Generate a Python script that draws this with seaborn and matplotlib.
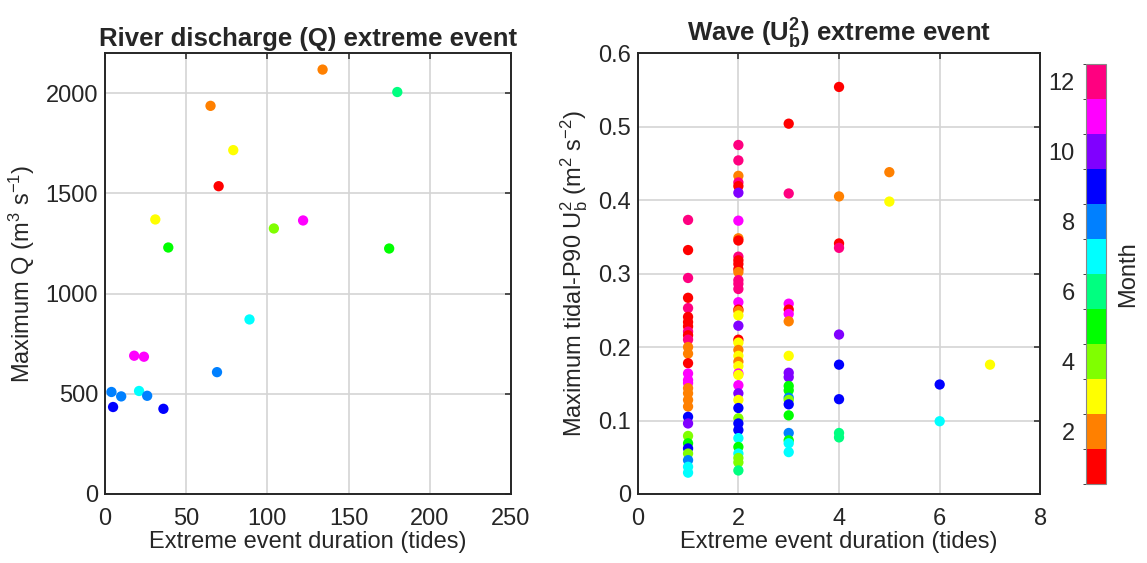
import numpy as np
import pandas as pd
import matplotlib
matplotlib.use("Agg")
import matplotlib.pyplot as plt
import seaborn as sns
from matplotlib.colors import ListedColormap, BoundaryNorm
import matplotlib.cm as cm

# ---------------- data ----------------
q_duration = [134, 180, 65, 79, 70, 31, 104, 122, 39, 175, 89, 18, 24, 69, 4, 10, 21, 26, 5, 36]
q_max = [2118, 2006, 1937, 1716, 1536, 1370, 1325, 1365, 1230, 1225, 871, 690, 685, 608, 509, 487, 514, 490, 434, 425]
q_month = [2, 6, 2, 3, 1, 3, 4, 11, 5, 5, 7, 11, 11, 8, 8, 8, 7, 8, 9, 9]

w_duration = (
    [1] * 30 + [2] * 43 + [3] * 19 + [4] * 9 + [5] * 2 + [6] * 2 + [7] * 1
)
w_u2 = [
    # duration 1
    0.373, 0.332, 0.294, 0.267, 0.253, 0.241, 0.234, 0.228, 0.221, 0.216,
    0.210, 0.200, 0.191, 0.178, 0.164, 0.155, 0.151, 0.144, 0.137, 0.128,
    0.119, 0.105, 0.096, 0.079, 0.069, 0.062, 0.055, 0.046, 0.037, 0.029,
    # duration 2
    0.475, 0.454, 0.433, 0.424, 0.419, 0.410, 0.372, 0.348, 0.345, 0.323,
    0.318, 0.313, 0.306, 0.302, 0.291, 0.286, 0.279, 0.261, 0.251, 0.249,
    0.243, 0.229, 0.210, 0.206, 0.196, 0.188, 0.180, 0.174, 0.164, 0.162,
    0.148, 0.137, 0.128, 0.117, 0.103, 0.096, 0.087, 0.076, 0.064, 0.055,
    0.049, 0.043, 0.032,
    # duration 3
    0.504, 0.409, 0.259, 0.251, 0.245, 0.235, 0.188, 0.165, 0.159, 0.147,
    0.141, 0.131, 0.128, 0.122, 0.107, 0.083, 0.073, 0.069, 0.057,
    # duration 4
    0.554, 0.405, 0.341, 0.335, 0.217, 0.176, 0.129, 0.083, 0.077,
    # duration 5
    0.438, 0.398,
    # duration 6
    0.149, 0.099,
    # duration 7
    0.176,
]
w_month = [
    # duration 1
    12, 1, 12, 1, 12, 1, 1, 1, 12, 1,
    12, 2, 2, 1, 11, 11, 11, 2, 2, 2,
    2, 9, 10, 4, 5, 9, 4, 8, 7, 7,
    # duration 2
    12, 12, 2, 12, 1, 10, 11, 2, 1, 12,
    1, 1, 1, 2, 12, 12, 12, 11, 1, 2,
    3, 10, 1, 3, 2, 3, 2, 3, 11, 3,
    11, 10, 3, 9, 4, 9, 9, 7, 5, 7,
    4, 4, 6,
    # duration 3
    1, 12, 11, 1, 11, 2, 3, 10, 10, 5,
    5, 8, 4, 9, 5, 8, 5, 7, 7,
    # duration 4
    1, 2, 1, 12, 10, 9, 9, 6, 6,
    # duration 5
    2, 3,
    # duration 6
    9, 7,
    # duration 7
    3,
]

month_colors = [
    "#ff0000", "#ff8000", "#ffff00", "#80ff00", "#00ff00", "#00ff80",
    "#00ffff", "#0080ff", "#0000ff", "#8000ff", "#ff00ff", "#ff0080",
]
months = list(range(1, 13))
palette = dict(zip(months, month_colors))

df_q = pd.DataFrame({"duration": q_duration, "Q": q_max, "month": q_month})
df_w = pd.DataFrame({"duration": w_duration, "U2": w_u2, "month": w_month})

# ---------------- style ----------------
sns.set_style("white")
plt.rcParams["font.family"] = ["Liberation Sans", "DejaVu Sans"]
plt.rcParams["mathtext.fontset"] = "custom"
plt.rcParams["mathtext.rm"] = "Liberation Sans"
plt.rcParams["mathtext.it"] = "Liberation Sans"
plt.rcParams["mathtext.bf"] = "Liberation Sans:bold"

fig = plt.figure(figsize=(11.47, 5.63), dpi=100)
ax1 = fig.add_axes([0.0915, 0.1226, 0.354, 0.783])
ax2 = fig.add_axes([0.556, 0.1226, 0.351, 0.783])
cax = fig.add_axes([0.9466, 0.1403, 0.0177, 0.746])

fs = 17
tfs = 18.5
txt = "#262626"

def style_axes(ax):
    for sp in ax.spines.values():
        sp.set_visible(True)
        sp.set_color(txt)
        sp.set_linewidth(1.4)
    ax.grid(True, color="#d4d4d4", linewidth=1.2)
    ax.set_axisbelow(True)
    ax.tick_params(direction="in", length=4, width=1.1, top=True, right=True,
                   labelsize=fs, colors=txt, pad=5)
    ax.tick_params(axis="x", pad=10)

sns.scatterplot(data=df_q, x="duration", y="Q", hue="month", palette=palette,
                s=55, edgecolor="none", linewidth=0, legend=False, ax=ax1)
ax1.set_xlim(0, 250)
ax1.set_ylim(0, 2200)
ax1.set_xticks([0, 50, 100, 150, 200, 250])
ax1.set_yticks([0, 500, 1000, 1500, 2000])
ax1.set_xlabel("Extreme event duration (tides)", fontsize=fs, color=txt, labelpad=1)
ax1.set_ylabel(r"Maximum Q (m$^{3}$ s$^{-1}$)", fontsize=fs, color=txt, labelpad=6)
ax1.set_title("River discharge (Q) extreme event", fontsize=tfs,
              fontweight="bold", pad=5)
style_axes(ax1)

sns.scatterplot(data=df_w, x="duration", y="U2", hue="month", palette=palette,
                s=55, edgecolor="none", linewidth=0, legend=False, ax=ax2)
ax2.set_xlim(0, 8)
ax2.set_ylim(0, 0.6)
ax2.set_xticks([0, 2, 4, 6, 8])
ax2.set_yticks([0, 0.1, 0.2, 0.3, 0.4, 0.5, 0.6])
ax2.set_yticklabels(["0", "0.1", "0.2", "0.3", "0.4", "0.5", "0.6"])
ax2.set_xlabel("Extreme event duration (tides)", fontsize=fs, color=txt, labelpad=1)
ax2.set_ylabel(r"Maximum tidal-P90 U$_{b}^{2}$ (m$^{2}$ s$^{-2}$)",
               fontsize=fs, color=txt, labelpad=6)
ax2.set_title(r"Wave (U$_\mathbf{b}^\mathbf{2}$) extreme event", fontsize=tfs,
              fontweight="bold", pad=8)
style_axes(ax2)

cmap = ListedColormap(month_colors)
norm = BoundaryNorm(np.arange(0.5, 13.5, 1), cmap.N)
sm = cm.ScalarMappable(norm=norm, cmap=cmap)
cb = fig.colorbar(sm, cax=cax, ticks=[2, 4, 6, 8, 10, 12])
cb.outline.set_edgecolor("#888888")
cb.outline.set_linewidth(0.8)
cax.yaxis.set_ticks_position("left")
cax.yaxis.set_label_position("right")
cax.tick_params(direction="in", length=3, labelsize=fs, colors=txt,
                left=True, right=False, labelleft=True, labelright=False, pad=8)
cb.set_label("Month", fontsize=fs, color=txt, labelpad=8)

fig.savefig("out.png", dpi=100)
